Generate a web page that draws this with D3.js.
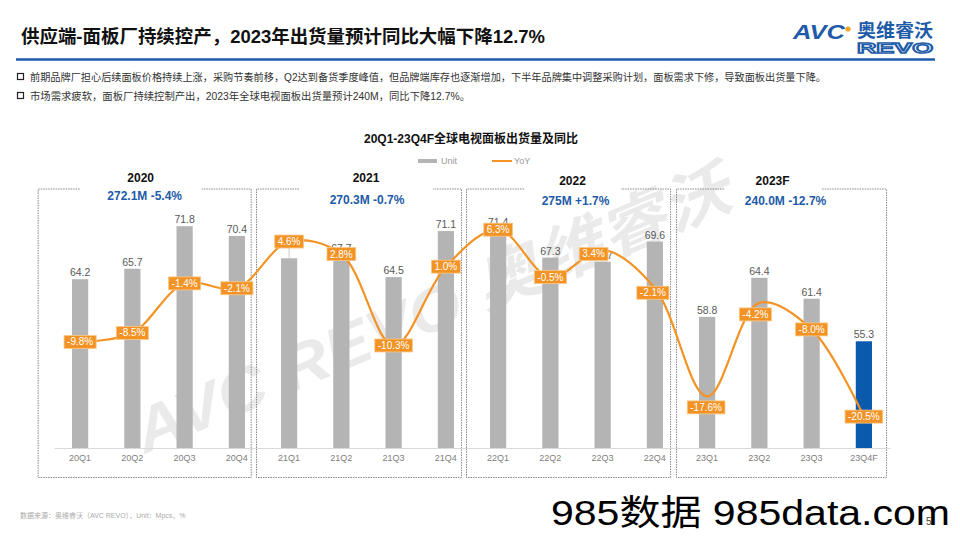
<!DOCTYPE html>
<html><head><meta charset="utf-8">
<script src="https://cdn.jsdelivr.net/npm/d3@7"></script>
<style>
html,body{margin:0;padding:0;background:#fff;}
svg{display:block;font-family:"Liberation Sans",Arial,"Noto Sans CJK SC",sans-serif;}
</style></head>
<body>
<svg id="c" width="960" height="540"></svg>
<script>
// ---------------- data ----------------
const categories = ["20Q1","20Q2","20Q3","20Q4","21Q1","21Q2","21Q3","21Q4","22Q1","22Q2","22Q3","22Q4","23Q1","23Q2","23Q3","23Q4F"];
const unitValues = [64.2,65.7,71.8,70.4,67.2,67.7,64.5,71.1,71.4,67.3,66.7,69.6,58.8,64.4,61.4,55.3];
const yoyValues  = [-9.8,-8.5,-1.4,-2.1,4.6,2.8,-10.3,1.0,6.3,-0.5,3.4,-2.1,-17.6,-4.2,-8.0,-20.5];
const years = ["2020","2021","2022","2023F"];
const yearSummary = ["272.1M -5.4%","270.3M -0.7%","275M +1.7%","240.0M -12.7%"];
const highlightCategory = "23Q4F";
const unitDomain = [40, 80];
const yoyDomain = [-25, 15];

const title = "供应端-面板厂持续控产，2023年出货量预计同比大幅下降12.7%";
const bullets = [
  "前期品牌厂担心后续面板价格持续上涨，采购节奏前移，Q2达到备货季度峰值，但品牌端库存也逐渐增加，下半年品牌集中调整采购计划，面板需求下修，导致面板出货量下降。",
  "市场需求疲软，面板厂持续控制产出，2023年全球电视面板出货量预计240M，同比下降12.7%。"
];
const chartTitle = "20Q1-23Q4F全球电视面板出货量及同比";
const legendNames = ["Unit","YoY"];
const sourceNote = "数据来源：奥维睿沃（AVC REVO），Unit：Mpcs，%";

// ---------------- layout / style ----------------
const BLUE = "#1e5ba8", ORANGE = "#F39325", GRAY_BAR = "#b4b4b4", BAR_HI = "#0a5aad";
const yoyLabelDx = [0,0,0,0, 0,0,0,0, 0,0,-9,-2, -1,-4,0,0];
const yoyLabelDy = [0,0,0,0, 0,0,0,0, 0,0,4,4.5, 11,11.5,0,0];
const boxPadL = [42,32.6,31.6,30.6], boxPadR = [14.3,15.7,15.7,22.7];
const titleDx = [-4,7,4,-9], subDx = [0,8,7,4];
const titleY = [182,182,185,185], subY = [200,204,205,205];
const gapHalf = [61,67,48.5,48.5];

const svg = d3.select("#c");

// header
svg.append("text").attr("x",21).attr("y",43).attr("font-size",18.5).attr("font-weight","bold")
  .attr("fill","#111").attr("textLength",524).attr("lengthAdjust","spacingAndGlyphs").text(title);
svg.append("line").attr("x1",16).attr("x2",935).attr("y1",59.5).attr("y2",59.5)
  .attr("stroke",BLUE).attr("stroke-width",2.5);

// logo
const logo = svg.append("g");
logo.append("text").attr("x",793).attr("y",39).attr("font-size",21).attr("font-weight","bold")
  .attr("font-style","italic").attr("fill",BLUE).attr("textLength",52).attr("lengthAdjust","spacingAndGlyphs").text("AVC");
logo.append("circle").attr("cx",848).attr("cy",29).attr("r",2.6).attr("fill","#f5a623");
logo.append("text").attr("x",857).attr("y",37).attr("font-size",18).attr("font-weight","bold")
  .attr("fill",BLUE).attr("textLength",76).attr("lengthAdjust","spacingAndGlyphs").text("奥维睿沃");
logo.append("text").attr("x",857).attr("y",53).attr("font-size",15).attr("font-weight","bold")
  .attr("fill","none").attr("stroke",BLUE).attr("stroke-width",1.4)
  .attr("textLength",76).attr("lengthAdjust","spacingAndGlyphs").text("REVO");

// bullets
const bulletLen = [796, 440];
bullets.forEach((b,i)=>{
  const y = 78 + i*19;
  svg.append("rect").attr("x",17.5).attr("y",y-4.5).attr("width",6).attr("height",6)
    .attr("fill","none").attr("stroke","#222").attr("stroke-width",1.2);
  svg.append("text").attr("x",30).attr("y",y+2.5).attr("font-size",10.2).attr("fill","#333")
    .attr("textLength",bulletLen[i]).attr("lengthAdjust","spacingAndGlyphs").text(b);
});

// chart title & legend
svg.append("text").attr("x",471).attr("y",143).attr("text-anchor","middle").attr("font-size",12)
  .attr("font-weight","bold").attr("fill","#111").text(chartTitle);
svg.append("rect").attr("x",418).attr("y",159).attr("width",19).attr("height",4).attr("fill",GRAY_BAR);
svg.append("text").attr("x",441).attr("y",164).attr("font-size",9).attr("fill","#999").text(legendNames[0]);
svg.append("line").attr("x1",492).attr("x2",512).attr("y1",161).attr("y2",161).attr("stroke",ORANGE).attr("stroke-width",2);
svg.append("text").attr("x",514).attr("y",164).attr("font-size",9).attr("fill","#999").text(legendNames[1]);

// scales
const x = d3.scaleBand().domain(categories).range([54,890]).paddingInner(0.69).paddingOuter(0.345);
const yU = d3.scaleLinear().domain(unitDomain).range([448,169]);
const yP = d3.scaleLinear().domain(yoyDomain).range([448,169]);
const cx = c => x(c) + x.bandwidth()/2;

// watermark
svg.append("text").attr("transform","translate(440,330) rotate(-22.8)")
  .attr("text-anchor","middle").attr("font-size",62).attr("font-weight","bold").attr("font-style","italic")
  .attr("fill","#000").attr("opacity",0.08).attr("textLength",640).attr("lengthAdjust","spacingAndGlyphs")
  .text("AVC REVO 奥维睿沃");

// year boxes
years.forEach((yr,i)=>{
  const first = categories[i*4], last = categories[i*4+3];
  const x0 = cx(first) - boxPadL[i], x1 = cx(last) + boxPadR[i];
  const top = 189, bot = 477.5;
  const tc = (x0+x1)/2 + titleDx[i];
  const g0 = tc - gapHalf[i], g1 = tc + gapHalf[i];
  const p = `M${g0},${top}H${x0}V${bot}H${x1}V${top}H${g1}`;
  svg.append("path").attr("d",p).attr("fill","none").attr("stroke","#888")
    .attr("stroke-width",1).attr("stroke-dasharray","1.5,1");
  svg.append("text").attr("x",tc).attr("y",titleY[i]).attr("text-anchor","middle").attr("font-size",12)
    .attr("font-weight","bold").attr("fill","#111").text(yr);
  svg.append("text").attr("x",(x0+x1)/2 + subDx[i]).attr("y",subY[i]).attr("text-anchor","middle").attr("font-size",12)
    .attr("font-weight","bold").attr("fill",BLUE).text(yearSummary[i]);
});

// bars
svg.append("g").selectAll("rect").data(categories).join("rect")
  .attr("x",d=>x(d)).attr("width",x.bandwidth())
  .attr("y",(d,i)=>yU(unitValues[i])).attr("height",(d,i)=>yU(unitDomain[0])-yU(unitValues[i]))
  .attr("fill",d=>d===highlightCategory?BAR_HI:GRAY_BAR);

// x axis
const ax = svg.append("g").attr("transform","translate(0,448)")
  .call(d3.axisBottom(x).tickSize(0).tickPadding(7));
ax.select(".domain").attr("stroke","#d9d9d9");
ax.selectAll("text").attr("font-size",9).attr("fill","#808080")
  .attr("font-family","\"Liberation Sans\",Arial,sans-serif");

// bar value labels (21Q1 label lifted with leader, hidden behind its YoY box as in the source)
const lift = categories.map(c=>c==="21Q1"?12:0);
svg.append("g").selectAll("line").data(categories.filter((c,i)=>lift[i]>0)).join("line")
  .attr("x1",d=>cx(d)).attr("x2",d=>cx(d))
  .attr("y1",d=>yU(unitValues[categories.indexOf(d)])).attr("y2",d=>yU(unitValues[categories.indexOf(d)])-11)
  .attr("stroke","#bbb").attr("stroke-width",0.8);
svg.append("g").selectAll("text").data(categories).join("text")
  .attr("x",d=>cx(d)).attr("y",(d,i)=>yU(unitValues[i])-3-lift[i])
  .attr("text-anchor","middle").attr("font-size",10.5).attr("fill","#595959")
  .text((d,i)=>unitValues[i].toFixed(1));

// yoy line
const line = d3.line().x((d,i)=>cx(categories[i])).y(d=>yP(d)).curve(d3.curveCatmullRom.alpha(0.5));
svg.append("path").datum(yoyValues).attr("d",line).attr("fill","none")
  .attr("stroke",ORANGE).attr("stroke-width",2.2);

// yoy labels
const lg = svg.append("g");
yoyValues.forEach((v,i)=>{
  const lx = cx(categories[i]) + yoyLabelDx[i], ly = yP(v) + yoyLabelDy[i];
  const t = lg.append("text").attr("x",lx).attr("y",ly+3.5).attr("text-anchor","middle")
    .attr("font-size",10).attr("fill","#fff").text(v.toFixed(1)+"%");
  const w = t.node().getComputedTextLength() + 6;
  lg.insert("rect","text").attr("x",lx-w/2).attr("y",ly-6.5).attr("width",w).attr("height",13)
    .attr("fill",ORANGE).attr("stroke","#f9c98c").attr("stroke-width",0.8);
});
lg.selectAll("text").raise();

// footer
svg.append("text").attr("x",20).attr("y",518).attr("font-size",7).attr("fill","#aaa").text(sourceNote);
svg.append("text").attr("x",551).attr("y",525).attr("font-size",35).attr("fill","#000")
  .attr("textLength",399).attr("lengthAdjust","spacingAndGlyphs").text("985数据 985data.com");
svg.append("text").attr("x",926).attr("y",525).attr("font-size",10).attr("fill","#444").text("5");
</script>
</body></html>
